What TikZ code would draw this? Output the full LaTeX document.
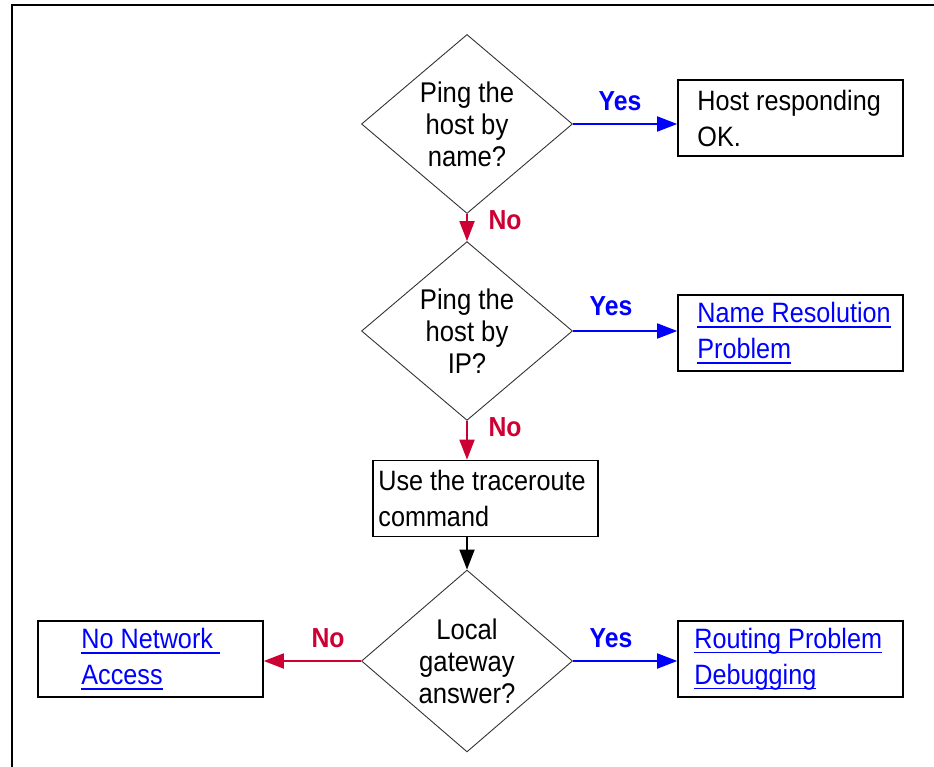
\documentclass[tikz,border=0pt]{standalone}
\usepackage{fontspec}
\setmainfont{Liberation Sans}[FakeStretch=0.9]
\usetikzlibrary{shapes.geometric,arrows.meta}
\definecolor{nored}{RGB}{204,0,51}
\definecolor{yesblue}{RGB}{0,0,255}
\newcommand\lnk[1]{\setbox0\hbox{#1}\rlap{\color{yesblue}\rule[-5pt]{\wd0}{1.6pt}}{\color{yesblue}\box0}}
\begin{document}
\begin{tikzpicture}[x=1pt,y=-1pt,
  dec/.style={draw=black!80,line width=0.9pt,shape=diamond,inner sep=0pt,
    minimum width=211pt,minimum height=175pt,align=center,
    font=\fontsize{28.5}{32}\selectfont},
  stepbox/.style={draw=black,line width=1.6pt,minimum width=225pt,minimum height=76pt,inner sep=0pt},
  boxtext/.style={align=left,inner sep=0pt,font=\fontsize{28}{36}\selectfont},
  conn/.style={line width=1.8pt,-{Triangle[length=20pt,width=15pt]}},
  yesconn/.style={conn,draw=yesblue,fill=yesblue},
  noconn/.style={conn,draw=nored,fill=nored},
  lab/.style={font=\bfseries\fontsize{27.5}{30}\selectfont,inner sep=0pt},
  ]
\useasboundingbox (0,0) rectangle (934,767);
\draw[line width=1.8pt] (12,767) -- (12,5) -- (934,5);

% decisions
\node[dec] (d1) at (467,124) {Ping the\\host by\\name?};
\node[dec] (d2) at (467,331) {Ping the\\host by\\IP?};
\node[dec] (d3) at (467,661) {Local\\gateway\\answer?};

% boxes
\node[stepbox] (b1) at (790.5,118) {};
\node[boxtext,anchor=west] (t1) at ([xshift=20pt]b1.west) {Host responding\\OK.};
\node[stepbox] (b2) at (790.5,333) {};
\node[boxtext,anchor=west] (t2) at ([xshift=20pt]b2.west) {\lnk{Name Resolution}\\\lnk{Problem}};
\node[stepbox] (b3) at (485.5,498.5) {};
\node[boxtext,anchor=west] (t3) at ([xshift=6pt]b3.west) {Use the traceroute\\command};
\node[stepbox] (b4) at (790.5,659) {};
\node[boxtext,anchor=west] (t4) at ([xshift=17pt]b4.west) {\lnk{Routing Problem}\\\lnk{Debugging}};
\node[stepbox] (b5) at (150.5,659) {};
\node[boxtext,anchor=west] (t5) at ([xshift=44pt]b5.west) {\lnk{No Network\ }\\\lnk{Access}};

% connectors
\draw[yesconn] (d1.east) -- (d1.east -| b1.west);
\draw[noconn] (d1.south) -- (d2.north);
\draw[yesconn] (d2.east) -- (d2.east -| b2.west);
\draw[noconn] (d2.south) -- (d2.south |- b3.north);
\draw[conn,draw=black,fill=black] (d3.north |- b3.south) -- (d3.north);
\draw[yesconn] (d3.east) -- (d3.east -| b4.west);
\draw[noconn] (d3.west) -- (d3.west -| b5.east);

% labels
\node[lab,text=yesblue] (y1) at (620,101) {Yes};
\node[lab,text=nored] (n1) at (505,220) {No};
\node[lab,text=yesblue] (y2) at (611,306) {Yes};
\node[lab,text=nored] (n2) at (505,427) {No};
\node[lab,text=yesblue] (y3) at (611,638) {Yes};
\node[lab,text=nored] (n3) at (328,638) {No};
\end{tikzpicture}
\end{document}
